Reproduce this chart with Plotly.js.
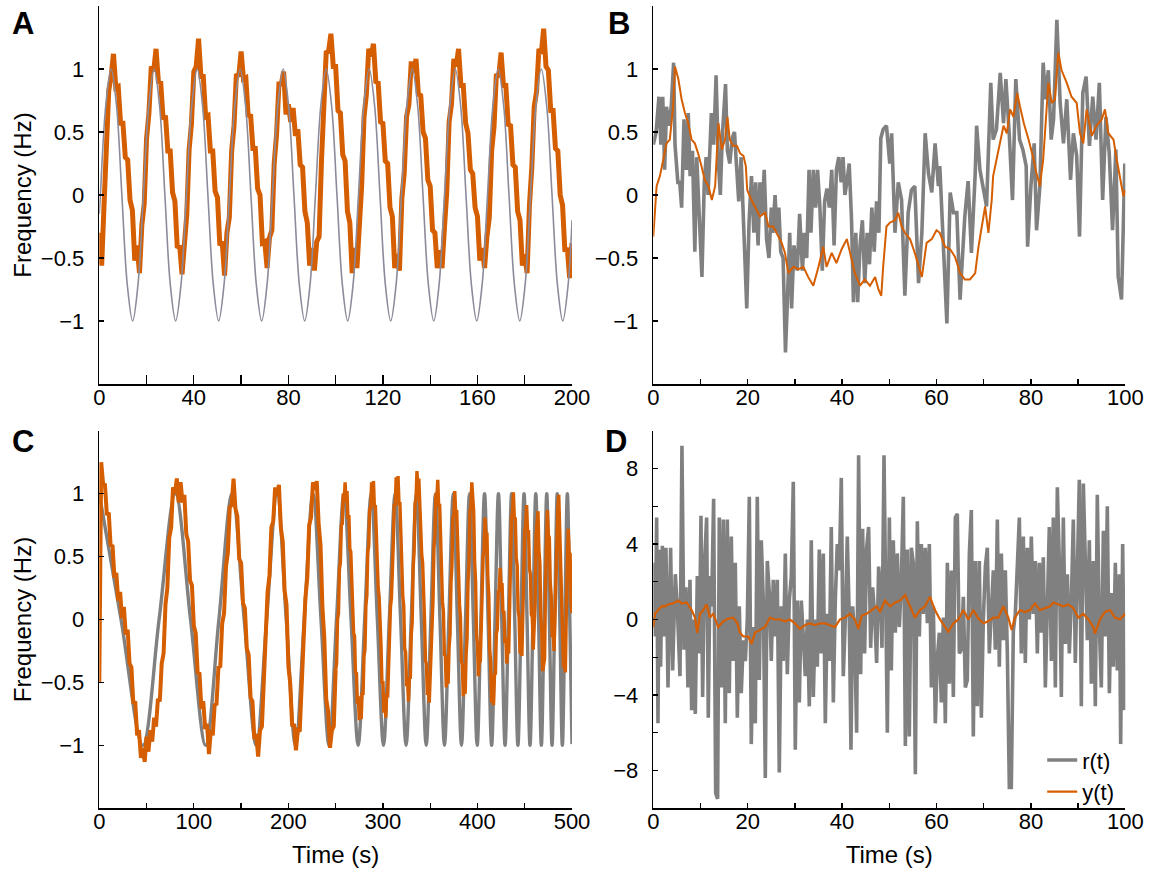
<!DOCTYPE html>
<html>
<head>
<meta charset="utf-8">
<script src="https://cdn.plot.ly/plotly-3.0.1.min.js"></script>
<style>html,body{margin:0;padding:0;background:#fff;}#chart{width:1158px;height:879px;}</style>
</head>
<body>
<div id="chart"></div>
<script>
// ---------------- DATA ----------------
// Panel A: reference sine r(t) (times of extremes / crossings / eighth points)
const grayA_t = [0,0.45,2.73,5.00,7.28,9.55,11.83,14.10,16.38,18.65,20.93,23.20,25.48,27.75,30.03,32.30,34.58,36.85,39.13,41.40,43.68,45.95,48.23,50.50,52.78,55.05,57.33,59.60,61.88,64.15,66.43,68.70,70.98,73.25,75.53,77.80,80.08,82.35,84.63,86.90,89.18,91.45,93.73,96.00,98.28,100.55,102.83,105.10,107.38,109.65,111.93,114.20,116.48,118.75,121.03,123.30,125.58,127.85,130.13,132.40,134.68,136.95,139.23,141.50,143.78,146.05,148.33,150.60,152.88,155.15,157.43,159.70,161.98,164.25,166.53,168.80,171.08,173.35,175.63,177.90,180.18,182.45,184.73,187.00,189.28,191.55,193.83,196.10,198.38,200];
const grayA_v = [-0.15,
 0,0.71,1,0.71,0,-0.71,-1,-0.71, 0,0.71,1,0.71,0,-0.71,-1,-0.71,
 0,0.71,1,0.71,0,-0.71,-1,-0.71, 0,0.71,1,0.71,0,-0.71,-1,-0.71,
 0,0.71,1,0.71,0,-0.71,-1,-0.71, 0,0.71,1,0.71,0,-0.71,-1,-0.71,
 0,0.71,1,0.71,0,-0.71,-1,-0.71, 0,0.71,1,0.71,0,-0.71,-1,-0.71,
 0,0.71,1,0.71,0,-0.71,-1,-0.71, 0,0.71,1,0.71,0,-0.71,-1,-0.71,
 0,0.71,1,0.71,0,-0.71,-1,-0.71,
 -0.2];
// Panel A: output y(t), one sample per second from t = 0
const orangeA_start = 0, orangeA_step = 1;
const orangeA_v = [-0.30,-0.56,-0.08,0.28,0.83,0.94,1.12,0.85,0.86,0.57,0.57,0.30,0.28,-0.04,-0.12,-0.52,-0.40,-0.62,-0.24,-0.07,
 0.45,0.65,1.02,0.98,1.16,0.90,0.89,0.60,0.63,0.35,0.35,0.02,-0.05,-0.42,-0.40,-0.63,-0.38,-0.16,0.36,0.57,
 0.98,1.02,1.24,0.94,0.94,0.62,0.63,0.35,0.35,0.03,-0.02,-0.40,-0.37,-0.64,-0.30,-0.18,0.35,0.55,0.96,0.94,
 1.14,0.92,0.93,0.62,0.64,0.37,0.37,0.05,0.00,-0.38,-0.37,-0.58,-0.34,-0.28,0.25,0.48,0.88,0.88,0.98,0.64,
 0.72,0.58,0.69,0.47,0.52,0.24,0.22,-0.13,-0.22,-0.56,-0.42,-0.60,-0.37,-0.33,0.27,0.62,1.13,1.14,1.28,1.02,
 1.02,0.67,0.65,0.32,0.27,-0.13,-0.22,-0.62,-0.42,-0.58,-0.32,0.07,0.62,0.80,1.16,1.10,1.20,0.90,0.89,0.58,
 0.57,0.27,0.25,-0.10,-0.17,-0.58,-0.47,-0.60,-0.03,0.17,0.62,0.72,1.06,0.97,1.08,0.80,0.79,0.50,0.45,0.12,
 0.07,-0.28,-0.30,-0.58,-0.44,-0.58,-0.27,0.02,0.58,0.72,1.08,1.02,1.16,0.87,0.87,0.57,0.49,0.20,0.17,-0.10,
 -0.17,-0.52,-0.42,-0.58,-0.33,-0.18,0.35,0.54,0.96,0.94,1.13,0.87,0.87,0.56,0.55,0.24,0.22,-0.13,-0.20,-0.56,
 -0.47,-0.62,-0.08,0.22,0.70,0.82,1.16,1.12,1.32,1.02,0.99,0.67,0.67,0.37,0.35,0.00,-0.08,-0.45,-0.42,-0.66,
 -0.38];

// Panel B: noisy reference r(t)
const grayB_t = [0,0.6,1.2,1.6,2.0,2.4,2.8,3.3,3.8,4.3,4.6,5.2,5.6,6.0,6.5,7.0,7.4,7.8,8.3,8.8,9.2,9.7,10.3,10.8,11.2,11.6,12.3,12.8,13.3,13.8,14.2,14.6,15.0,15.3,15.7,16.2,16.7,17.2,17.6,18.1,18.6,19.1,19.8,20.3,20.8,21.3,21.7,22.2,22.6,23.0,23.5,24.0,24.5,25.0,25.3,25.8,26.2,26.6,27.0,27.5,28.0,28.4,28.9,29.3,29.8,30.5,31.0,31.6,32.0,32.5,33.0,33.4,33.9,34.4,34.8,35.3,35.8,36.3,36.8,37.3,37.8,38.3,38.8,39.3,39.8,40.2,40.6,41.0,41.5,42.0,42.4,42.9,43.3,43.8,44.3,44.8,45.3,45.8,46.3,46.8,47.3,47.8,48.2,48.7,49.4,50.1,50.5,51.2,51.9,52.6,53.3,54.0,54.7,55.4,56.2,56.9,57.6,58.3,59.0,59.7,60.4,60.7,61.4,62.2,62.9,63.6,64.3,65.0,65.3,66.0,66.7,67.4,68.2,68.5,69.2,69.9,70.6,71.5,72.0,72.7,73.5,74.2,74.7,75.4,76.1,76.8,77.6,78.3,79.0,79.3,80.0,80.7,81.2,81.9,82.6,83.1,83.7,84.3,84.8,85.5,86.2,86.9,87.6,88.4,89.0,89.7,90.3,91.0,91.7,92.4,93.1,93.8,94.5,95.2,95.9,96.6,97.3,98.0,98.5,99.2,99.9];
const grayB_v = [0.4,0.5,0.78,0.4,0.78,0.2,0.7,0.55,0.7,1.05,0.4,0.1,0.1,-0.1,0.6,0.2,0.65,0.15,0.35,-0.45,0.3,-0.1,-0.65,0.1,0.3,0.0,0.65,0.4,0.95,0.25,0.0,0.45,0.7,0.88,0.35,0.25,0.45,0.5,0.25,-0.05,0.3,-0.2,-0.9,-0.2,0.15,-0.3,0.1,-0.4,0.1,-0.15,0.2,-0.35,-0.5,-0.1,-0.3,0.0,-0.3,-0.1,-0.45,-0.5,-1.25,-0.85,-0.3,-0.9,-0.4,-0.6,-0.15,-0.6,-0.3,-0.5,0.2,-0.3,0.2,-0.1,0.2,-0.1,-0.6,-0.05,0.05,-0.1,0.2,-0.4,0.2,0.3,0.1,0.3,0.0,0.1,0.25,-0.2,-0.85,-0.3,-0.85,-0.4,-0.2,-0.7,-0.3,-0.55,-0.1,-0.45,-0.05,-0.3,0.45,0.52,0.55,0.25,0.49,-0.3,0.1,-0.04,-0.8,-0.14,0.04,0.07,-0.7,-0.3,0.49,0.17,0.02,0.41,0.07,0.23,-0.3,-1.02,0.02,-0.14,-0.14,-0.83,-0.62,-0.17,0.11,-0.46,0.17,0.55,0.2,0.07,-0.09,0.89,0.44,0.52,0.97,0.57,0.92,0.49,-0.04,0.92,0.44,0.36,0.23,-0.41,0.07,0.41,-0.28,0.07,1.05,0.76,0.99,0.44,0.6,1.39,0.73,0.41,0.76,0.12,0.49,0.31,-0.33,0.81,0.94,0.39,0.78,0.44,0.89,-0.04,0.62,0.33,-0.28,0.36,-0.65,-0.83,0.25];
// Panel B: output y(t)
const orangeB_t = [0,0.7,1.4,2.1,2.8,3.5,4.2,4.6,5.3,6.0,6.7,7.4,8.1,8.8,9.5,10.2,10.9,11.7,12.4,13.1,13.8,14.5,15.2,15.7,16.2,16.9,17.7,18.4,19.1,19.6,19.9,20.8,21.5,22.6,23.7,24.4,25.4,26.1,27.2,27.9,28.6,29.7,30.7,31.8,32.8,33.9,35.0,36.0,36.7,37.8,38.8,39.9,41.0,41.7,42.7,43.8,44.8,45.9,47.0,47.7,48.3,48.7,49.4,50.1,51.2,51.9,52.6,53.3,54.4,55.4,56.2,56.9,57.9,59.0,60.0,60.7,61.8,62.9,63.9,65.0,66.0,67.1,68.2,68.9,69.6,70.3,71.0,71.7,72.0,72.7,73.5,74.2,74.9,75.6,76.3,77.1,77.7,78.5,79.5,80.4,81.2,81.9,82.6,83.2,83.7,84.4,85.1,85.8,86.5,87.6,88.6,89.7,90.4,91.1,91.8,92.9,93.9,95.0,95.7,96.4,97.5,98.2,98.9,99.6,100];
const orangeB_v = [-0.33,0.07,0.15,0.28,0.41,0.44,0.7,1.02,0.92,0.76,0.65,0.57,0.44,0.41,0.33,0.23,0.12,0.07,-0.04,0.07,0.57,0.36,0.44,0.62,0.44,0.39,0.39,0.33,0.31,0.23,0.04,-0.04,-0.09,-0.17,-0.14,-0.25,-0.25,-0.3,-0.38,-0.46,-0.62,-0.57,-0.59,-0.57,-0.65,-0.72,-0.57,-0.41,-0.57,-0.46,-0.54,-0.43,-0.35,-0.46,-0.62,-0.72,-0.67,-0.72,-0.65,-0.75,-0.8,-0.57,-0.25,-0.22,-0.2,-0.14,-0.25,-0.3,-0.35,-0.46,-0.57,-0.65,-0.38,-0.35,-0.28,-0.3,-0.41,-0.43,-0.49,-0.62,-0.67,-0.67,-0.62,-0.41,-0.25,-0.09,-0.3,-0.04,0.15,0.28,0.44,0.55,0.49,0.68,0.62,0.81,0.7,0.57,0.44,0.31,0.17,0.07,0.28,0.6,0.89,0.73,0.76,1.13,0.99,0.89,0.78,0.73,0.49,0.41,0.68,0.47,0.55,0.6,0.68,0.49,0.44,0.28,0.12,-0.01,0.04];

// Panel C: chirp reference r(t) (extremes and zero crossings)
const grayC_t = [0,23,46,63.25,80.5,96.5,112.5,126.5,140.5,153.25,166,177,188,197.75,207.5,216.75,226,234.5,243,250.9,258.8,266.3,273.8,280.7,287.6,294.1,300.6,306.75,312.9,318.7,324.5,329.95,335.4,340.6,345.8,350.7,355.6,360.35,365.1,369.75,374.4,378.75,383.1,387.35,391.6,395.65,399.7,403.6,407.5,411.25,415,418.6,422.2,425.7,429.2,432.65,436.1,439.45,442.8,446.05,449.3,452.45,455.6,458.65,461.7,464.65,467.6,470.45,473.3,476.1,478.9,481.65,484.4,487.1,489.8,492.45,495.1,497.7,500];
const grayC_v = [1,0,-1,0, 1,0,-1,0, 1,0,-1,0, 1,0,-1,0, 1,0,-1,0, 1,0,-1,0, 1,0,-1,0, 1,0,-1,0, 1,0,-1,0, 1,0,-1,0,
 1,0,-1,0, 1,0,-1,0, 1,0,-1,0, 1,0,-1,0, 1,0,-1,0, 1,0,-1,0, 1,0,-1,0, 1,0,-1,0, 1,0,-1,0, 1,0,-0.99];
// Panel C: output y(t), slow part (explicit times) and fast part (1 s samples from t = 250)
const orangeC1_t = [0,1,2,4,6,8,10,12,14,16,18,20,22,24,26,28,30,32,34,36,38,40,42,44,46,48,50,52,54,56,58,60,62,64,66,68,70,72,74,76,78,80,82,84,86,88,90,92,94,96,98,100,102,104,106,108,110,112,114,116,118,120,122,124,126,128,130,132,134,136,138,140,142,144,146,148,150,152,154,156,158,160,162,164,166,168,170,172,174,176,178,180,182,184,186,188,190,192,194,196,198,200,202,204,206,208,210,212,214,216,218,220,222,224,226,228,230,232,234,236,238,240,242,244,246,248,250];
const orangeC1_v = [-0.50,0.90,1.25,1.08,1.07,0.83,0.85,0.58,0.59,0.33,0.37,0.15,0.22,0.01,0.10,-0.12,-0.08,-0.35,-0.38,-0.67,-0.65,-0.92,-0.88,-1.10,-1.02,-1.13,-0.93,-1.05,-0.88,-0.97,-0.78,-0.85,-0.63,-0.65,-0.35,-0.27,0.12,0.25,0.65,0.73,1.05,1.00,1.12,0.93,1.09,0.93,0.99,0.68,0.62,0.31,0.27,-0.05,-0.11,-0.42,-0.43,-0.71,-0.65,-0.87,-0.83,-1.07,-0.88,-0.92,-0.68,-0.67,-0.38,-0.37,-0.03,0.05,0.42,0.53,0.89,0.91,1.12,0.88,0.82,0.48,0.45,0.13,0.09,-0.23,-0.28,-0.62,-0.65,-0.95,-0.91,-1.09,-0.88,-0.85,-0.43,-0.22,0.22,0.35,0.73,0.78,1.05,0.98,1.07,0.73,0.62,0.23,0.12,-0.37,-0.51,-0.85,-0.83,-1.04,-0.88,-0.89,-0.48,-0.27,0.17,0.33,0.75,0.81,1.09,1.03,1.10,0.76,0.59,0.10,-0.15,-0.63,-0.73,-1.02,-0.88,-0.85,-0.40];
const orangeC2_start = 250, orangeC2_step = 1;
const orangeC2_v = [-0.40,
 -0.35,0.00,0.05,0.40,0.45,0.75,0.76,1.00,0.93,1.09,0.93,1.02,0.80,0.83,0.56,0.54,0.24,0.20,-0.11,-0.13,
 -0.43,-0.42,-0.67,-0.61,-0.80,-0.68,-0.79,-0.58,-0.60,-0.29,-0.24,0.11,0.19,0.54,0.58,0.89,0.87,1.09,0.98,1.10,
 0.89,0.91,0.63,0.59,0.25,0.18,-0.15,-0.21,-0.51,-0.49,-0.74,-0.65,-0.78,-0.59,-0.62,-0.32,-0.26,0.10,0.17,0.54,
 0.61,0.92,0.90,1.13,1.03,1.14,0.92,0.92,0.61,0.55,0.19,0.11,-0.23,-0.26,-0.53,-0.48,-0.65,-0.46,-0.47,-0.12,
 -0.02,0.41,0.54,0.92,0.95,1.18,1.04,1.12,0.88,0.85,0.52,0.45,0.07,0.00,-0.33,-0.35,-0.60,-0.52,-0.66,-0.42,
 -0.37,0.02,0.16,0.57,0.68,1.00,0.96,1.11,0.90,0.92,0.59,0.52,0.14,0.06,-0.28,-0.29,-0.54,-0.43,-0.51,-0.22,
 -0.12,0.29,0.43,0.81,0.82,1.02,0.84,0.87,0.56,0.49,0.12,0.02,-0.33,-0.36,-0.61,-0.51,-0.59,-0.28,-0.15,0.29,
 0.45,0.86,0.89,1.09,0.89,0.86,0.46,0.31,-0.12,-0.20,-0.45,-0.32,-0.34,0.00,0.11,0.50,0.55,0.81,0.66,0.69,
 0.33,0.19,-0.24,-0.34,-0.66,-0.58,-0.68,-0.44,-0.43,-0.11,-0.08,0.22,0.23,0.41,0.23,0.29,0.05,0.07,-0.19,-0.15,
 -0.35,-0.23,-0.27,0.13,0.34,0.81,0.85,1.01,0.80,0.81,0.49,0.43,0.07,0.02,-0.27,-0.23,-0.29,0.07,0.26,0.70,
 0.75,0.91,0.70,0.71,0.40,0.36,0.04,0.02,-0.24,-0.08,0.13,0.67,0.78,0.86,0.55,0.45,0.03,-0.09,-0.41,-0.33,
 -0.31,0.27,0.53,0.87,0.67,0.65,0.29,0.19,-0.14,-0.11,-0.25,0.07,0.27,0.77,0.87,0.99,0.71,0.62,0.18,0.01,
 -0.37,-0.37,-0.42,0.07,0.33,0.72,0.53,0.52,0.13,0.05];

// Panel D: white-noise reference r(t)
const grayD_t = [0,0.14,0.42,0.71,0.99,1.27,1.55,1.91,2.26,2.68,3.11,3.67,4.10,4.66,5.08,5.65,6.07,6.50,6.92,7.34,7.77,8.12,8.47,8.90,9.32,9.75,10.10,10.45,10.88,11.30,11.65,12.01,12.36,12.78,13.21,13.63,13.98,14.41,14.83,15.25,15.68,16.10,16.53,16.95,17.37,17.80,18.22,18.64,19.07,19.49,19.92,20.34,20.76,21.19,21.61,22.03,22.46,22.88,23.31,23.73,24.15,24.58,25.00,25.42,25.85,26.27,26.69,27.12,27.54,27.97,28.39,28.81,29.24,29.66,30.08,30.51,30.93,31.36,31.78,32.20,32.63,33.05,33.47,33.90,34.32,34.75,35.17,35.59,36.02,36.44,36.86,37.29,37.71,38.14,38.56,38.98,39.41,39.83,40.25,40.68,41.10,41.53,41.88,42.23,42.66,43.08,43.50,43.93,44.35,44.77,45.20,45.62,46.05,46.47,46.89,47.32,47.74,
 48.03,48.45,48.88,49.30,49.58,50.01,50.43,50.85,51.28,51.70,52.13,52.55,52.97,53.40,53.82,54.24,54.67,55.09,55.52,55.94,56.36,56.79,57.21,57.63,58.06,58.48,58.91,59.33,59.75,60.18,60.60,61.02,61.45,61.87,62.30,62.72,63.14,63.57,63.99,64.41,64.84,65.26,65.69,66.11,66.53,66.96,67.38,67.80,68.23,68.65,69.07,69.50,69.92,70.35,70.77,71.19,71.62,72.04,72.46,72.89,73.31,73.74,74.16,74.58,75.01,75.43,75.85,76.28,76.70,77.13,77.55,77.97,78.40,78.82,79.24,79.67,80.09,80.51,80.94,81.36,81.79,82.21,82.63,83.06,83.48,83.90,84.33,84.75,85.18,85.60,86.02,86.45,86.87,87.29,87.72,88.14,88.57,88.99,89.41,89.84,90.26,90.68,91.11,91.53,91.96,92.38,92.80,93.23,93.65,94.07,94.50,94.92,95.35,95.77,96.19,96.62,97.04,97.46,97.89,98.31,98.74,99.02,99.44,99.86];
const grayD_v = [0.5,3.0,-0.9,5.4,-5.5,3.7,-2.5,3.9,-0.9,3.8,-3.6,3.8,-2.7,2.4,0.7,-3.0,9.2,-1.6,1.7,-3.6,2.1,-4.8,0,-5.0,2.3,-1.8,5.5,-4.1,3.1,5.4,-5.2,2.3,0.7,6.4,-9.2,-9.5,5.4,-3.6,5.3,-5.5,5.3,-3.9,4.4,-2.2,3.0,-5.2,0.7,-3.9,-1.1,-2.2,0,6.5,-6.6,-0.4,-5.5,6.5,-3.2,4.2,1.0,-8.4,3.1,1.4,-2.2,2.1,-0.9,2.1,-8.1,0.7,-2.2,3.5,-2.9,1.0,2.3,7.3,-6.9,1.0,-4.4,1.0,-0.9,-3.0,0,-4.6,4.2,-4.1,0,-2.5,3.7,-1.8,3.5,-5.5,0.3,-2.2,4.9,-4.4,1.0,4.0,2.6,7.5,-3.0,0,4.4,0,-6.9,0.7,-0.7,-6.0,8.7,-2.9,4.8,-1.8,3.8,4.9,-1.5,1.7,0.3,-2.3,2.8,
 1.9,-1.5,8.7,0,-6.0,5.4,-2.7,4.2,-0.7,3.5,-0.4,2.1,6.5,-6.7,3.7,-6.2,3.8,3.0,-8.2,5.2,-0.9,4.0,0.3,3.8,-0.2,4.0,-3.6,0.7,-5.5,-2.0,-0.7,-4.4,0.1,-5.5,3.0,-3.4,2.6,-4.1,5.4,5.6,-1.8,-1.6,1.2,-3.6,-3.2,3.5,5.8,-6.2,3.1,-4.6,3.1,-5.2,0,2.8,3.8,-1.8,0.7,2.6,-1.6,5.3,-2.5,3.5,-1.1,2.6,-1.8,-8.9,-8.9,-0.6,0.3,3.1,5.4,-1.8,4.4,-2.3,3.8,0,4.4,0.3,3.1,-1.8,3.0,-0.7,3.3,-3.6,1.2,4.9,-2.2,5.4,-3.6,7.0,3.1,-4.1,5.4,-1.3,2.4,-1.8,1.0,5.3,-2.3,3.3,7.4,-4.6,7.2,3.1,-1.1,4.2,-3.4,3.1,-4.6,6.6,-0.4,-3.6,4.7,-0.9,6.0,-3.9,1.4,-2.5,3.0,-2.7,2.4,-6.6,4.0,-4.8];
// Panel D: output y(t)
const orangeD_t = [0,0.35,1.06,1.77,2.47,3.18,4.24,5.30,6.0,7.06,8.12,8.83,9.32,9.89,10.59,11.30,12.0,12.71,13.77,14.83,15.89,16.95,17.8,18.36,19.07,20.13,20.83,21.54,22.6,23.66,24.72,25.78,26.84,27.9,28.95,30.01,31.07,32.13,33.19,34.25,35.31,36.37,37.43,38.49,39.55,40.61,41.67,42.73,43.43,44.14,45.2,46.26,47.32,48.03,49.09,50.15,51.21,52.27,53.33,54.39,55.45,56.5,57.56,58.62,59.68,60.74,61.8,62.51,63.57,64.63,65.69,66.74,67.8,68.86,69.92,70.98,72.04,73.1,74.16,75.22,75.92,76.63,77.69,78.75,79.81,80.87,81.93,82.99,84.05,84.75,85.81,86.87,87.93,88.99,90.05,91.11,92.17,93.23,93.58,94.64,95.7,96.76,97.82,98.88,99.94];
const orangeD_v = [-0.4,0.3,0.5,0.7,0.7,0.8,0.85,1.0,0.85,0.9,0.5,0.1,-0.7,0.3,0.5,0.8,0.1,0.3,-0.4,-0.1,0.05,0.1,-0.2,-0.7,-0.9,-0.9,-1.3,-0.7,-0.55,-0.4,0.1,0,0,-0.1,0,-0.2,-0.5,-0.3,-0.2,-0.3,-0.2,-0.2,-0.3,-0.4,0,0.1,0.3,0,-0.5,0.2,0.3,0.5,0.7,0.4,1.0,0.7,0.9,1.0,1.3,0.7,0.1,0.5,0.7,1.2,0.5,0,-0.4,-0.65,-0.2,0,0.5,0,0.5,0.05,-0.2,-0.1,0.1,0.1,0.7,0.1,-0.55,0.1,0.5,0.4,0.5,0.85,0.5,0.6,0.7,0.9,0.8,0.7,0.8,0.6,0.1,0.3,0,-0.4,-0.75,0,0.4,0.5,0.1,0,0.3];

// Tick labels
const ticksFreq = [-1,-0.5,0,0.5,1];
const ticksA_x = [0,40,80,120,160,200];
const ticksB_x = [0,20,40,60,80,100];
const ticksC_x = [0,100,200,300,400,500];
const ticksD_y = [-8,-4,0,4,8];
const seriesNames = ['r(t)','y(t)'];

// ---------------- STYLE ----------------
const ORANGE = '#D55E00', GRAY = '#808080', GRAY_A = '#8b8b9b';
const FONT = 'Liberation Sans, Arial, Helvetica, sans-serif';
const TICK_SIZE = 22, TITLE_SIZE = 24;

const traces = [
  {type:'scatter', mode:'lines', x0:orangeA_start, dx:orangeA_step, y:orangeA_v, xaxis:'x', yaxis:'y',
   line:{color:ORANGE, width:5}, showlegend:false, hoverinfo:'skip'},
  {type:'scatter', mode:'lines', x:grayA_t, y:grayA_v, xaxis:'x', yaxis:'y',
   line:{color:GRAY_A, width:1.6, shape:'spline', smoothing:1}, showlegend:false, hoverinfo:'skip'},
  {type:'scatter', mode:'lines', x:grayB_t, y:grayB_v, xaxis:'x2', yaxis:'y2',
   line:{color:GRAY, width:3.6}, showlegend:false, hoverinfo:'skip'},
  {type:'scatter', mode:'lines', x:orangeB_t, y:orangeB_v, xaxis:'x2', yaxis:'y2',
   line:{color:ORANGE, width:2}, showlegend:false, hoverinfo:'skip'},
  {type:'scatter', mode:'lines', x:grayC_t, y:grayC_v, xaxis:'x3', yaxis:'y3',
   line:{color:GRAY, width:3.4, shape:'spline', smoothing:1}, showlegend:false, hoverinfo:'skip'},
  {type:'scatter', mode:'lines', x:orangeC1_t, y:orangeC1_v, xaxis:'x3', yaxis:'y3',
   line:{color:ORANGE, width:4}, showlegend:false, hoverinfo:'skip'},
  {type:'scatter', mode:'lines', x0:orangeC2_start, dx:orangeC2_step, y:orangeC2_v, xaxis:'x3', yaxis:'y3',
   line:{color:ORANGE, width:3.4}, showlegend:false, hoverinfo:'skip'},
  {type:'scatter', mode:'lines', name:seriesNames[0], x:grayD_t, y:grayD_v, xaxis:'x4', yaxis:'y4',
   line:{color:GRAY, width:3.6}, showlegend:true, hoverinfo:'skip'},
  {type:'scatter', mode:'lines', name:seriesNames[1], x:orangeD_t, y:orangeD_v, xaxis:'x4', yaxis:'y4',
   line:{color:ORANGE, width:2.2}, showlegend:true, hoverinfo:'skip'}
];

function xAxis(domain, range, tickvals, minorDtick, anchor, ticklen, title){
  const ax = {domain:domain, range:range, anchor:anchor, tickmode:'array', tickvals:tickvals,
    ticks:'inside', ticklen:ticklen, tickwidth:1.3, tickcolor:'#000',
    minor:{dtick:minorDtick, tick0:0, ticks:'inside', ticklen:ticklen, tickwidth:1.3, tickcolor:'#000', showgrid:false},
    showline:true, linewidth:1.6, linecolor:'#000', mirror:false, showgrid:false, zeroline:false,
    tickfont:{family:FONT, size:TICK_SIZE, color:'#000'}, ticklabelstandoff:-7, fixedrange:true};
  if (title) ax.title = {text:title, font:{family:FONT, size:TITLE_SIZE, color:'#000'}, standoff:13};
  return ax;
}
function yAxis(domain, range, tickvals, minorDtick, anchor, title){
  const ax = {domain:domain, range:range, anchor:anchor, tickmode:'array', tickvals:tickvals,
    ticks:'inside', ticklen:5, tickwidth:1.3, tickcolor:'#000',
    showline:true, linewidth:1.6, linecolor:'#000', mirror:false, showgrid:false, zeroline:false,
    tickfont:{family:FONT, size:TICK_SIZE, color:'#000'}, ticklabelstandoff:9, fixedrange:true};
  if (minorDtick) ax.minor = {dtick:minorDtick, tick0:0, ticks:'inside', ticklen:5, tickwidth:1.3, tickcolor:'#000', showgrid:false};
  if (title) ax.title = {text:title, font:{family:FONT, size:TITLE_SIZE, color:'#000'}, standoff:2};
  return ax;
}

const dxL = [99.3/1158, 572/1158], dxR = [653.3/1158, 1125.3/1158];
const dyT = [1-384/879, 1-6/879], dyB = [1-808.3/879, 1-430.7/879];

const layout = {
  width:1158, height:879, margin:{l:0, r:0, t:0, b:0},
  paper_bgcolor:'#fff', plot_bgcolor:'#fff',
  font:{family:FONT, size:TICK_SIZE, color:'#000'},
  xaxis: xAxis(dxL, [0,200], ticksA_x, 20, 'y', 9, null),
  yaxis: yAxis(dyT, [-1.5,1.5], ticksFreq, null, 'x', 'Frequency (Hz)'),
  xaxis2: xAxis(dxR, [0,100], ticksB_x, 10, 'y2', 5, null),
  yaxis2: yAxis(dyT, [-1.5,1.5], ticksFreq, null, 'x2', null),
  xaxis3: xAxis(dxL, [0,500], ticksC_x, 50, 'y3', 5, 'Time (s)'),
  yaxis3: yAxis(dyB, [-1.5,1.5], ticksFreq, null, 'x3', 'Frequency (Hz)'),
  xaxis4: xAxis(dxR, [0,100], ticksB_x, 10, 'y4', 5, 'Time (s)'),
  yaxis4: yAxis(dyB, [-10,10], ticksD_y, 2, 'x4', null),
  showlegend:true,
  legend:{x:0.9, y:0.159, xanchor:'left', yanchor:'top', bgcolor:'rgba(0,0,0,0)', borderwidth:0,
    font:{family:FONT, size:TICK_SIZE, color:'#000'}, tracegroupgap:0, itemclick:false, itemdoubleclick:false},
  annotations:[
    {text:'<b>A</b>', xref:'paper', yref:'paper', x:23/1158, y:1-23/879, xanchor:'center', yanchor:'middle', showarrow:false, font:{family:FONT, size:31, color:'#000'}},
    {text:'<b>B</b>', xref:'paper', yref:'paper', x:619/1158, y:1-23/879, xanchor:'center', yanchor:'middle', showarrow:false, font:{family:FONT, size:31, color:'#000'}},
    {text:'<b>C</b>', xref:'paper', yref:'paper', x:23/1158, y:1-441/879, xanchor:'center', yanchor:'middle', showarrow:false, font:{family:FONT, size:31, color:'#000'}},
    {text:'<b>D</b>', xref:'paper', yref:'paper', x:616/1158, y:1-441/879, xanchor:'center', yanchor:'middle', showarrow:false, font:{family:FONT, size:31, color:'#000'}}
  ]
};

Plotly.newPlot('chart', traces, layout, {displayModeBar:false, staticPlot:true});
</script>
</body>
</html>
